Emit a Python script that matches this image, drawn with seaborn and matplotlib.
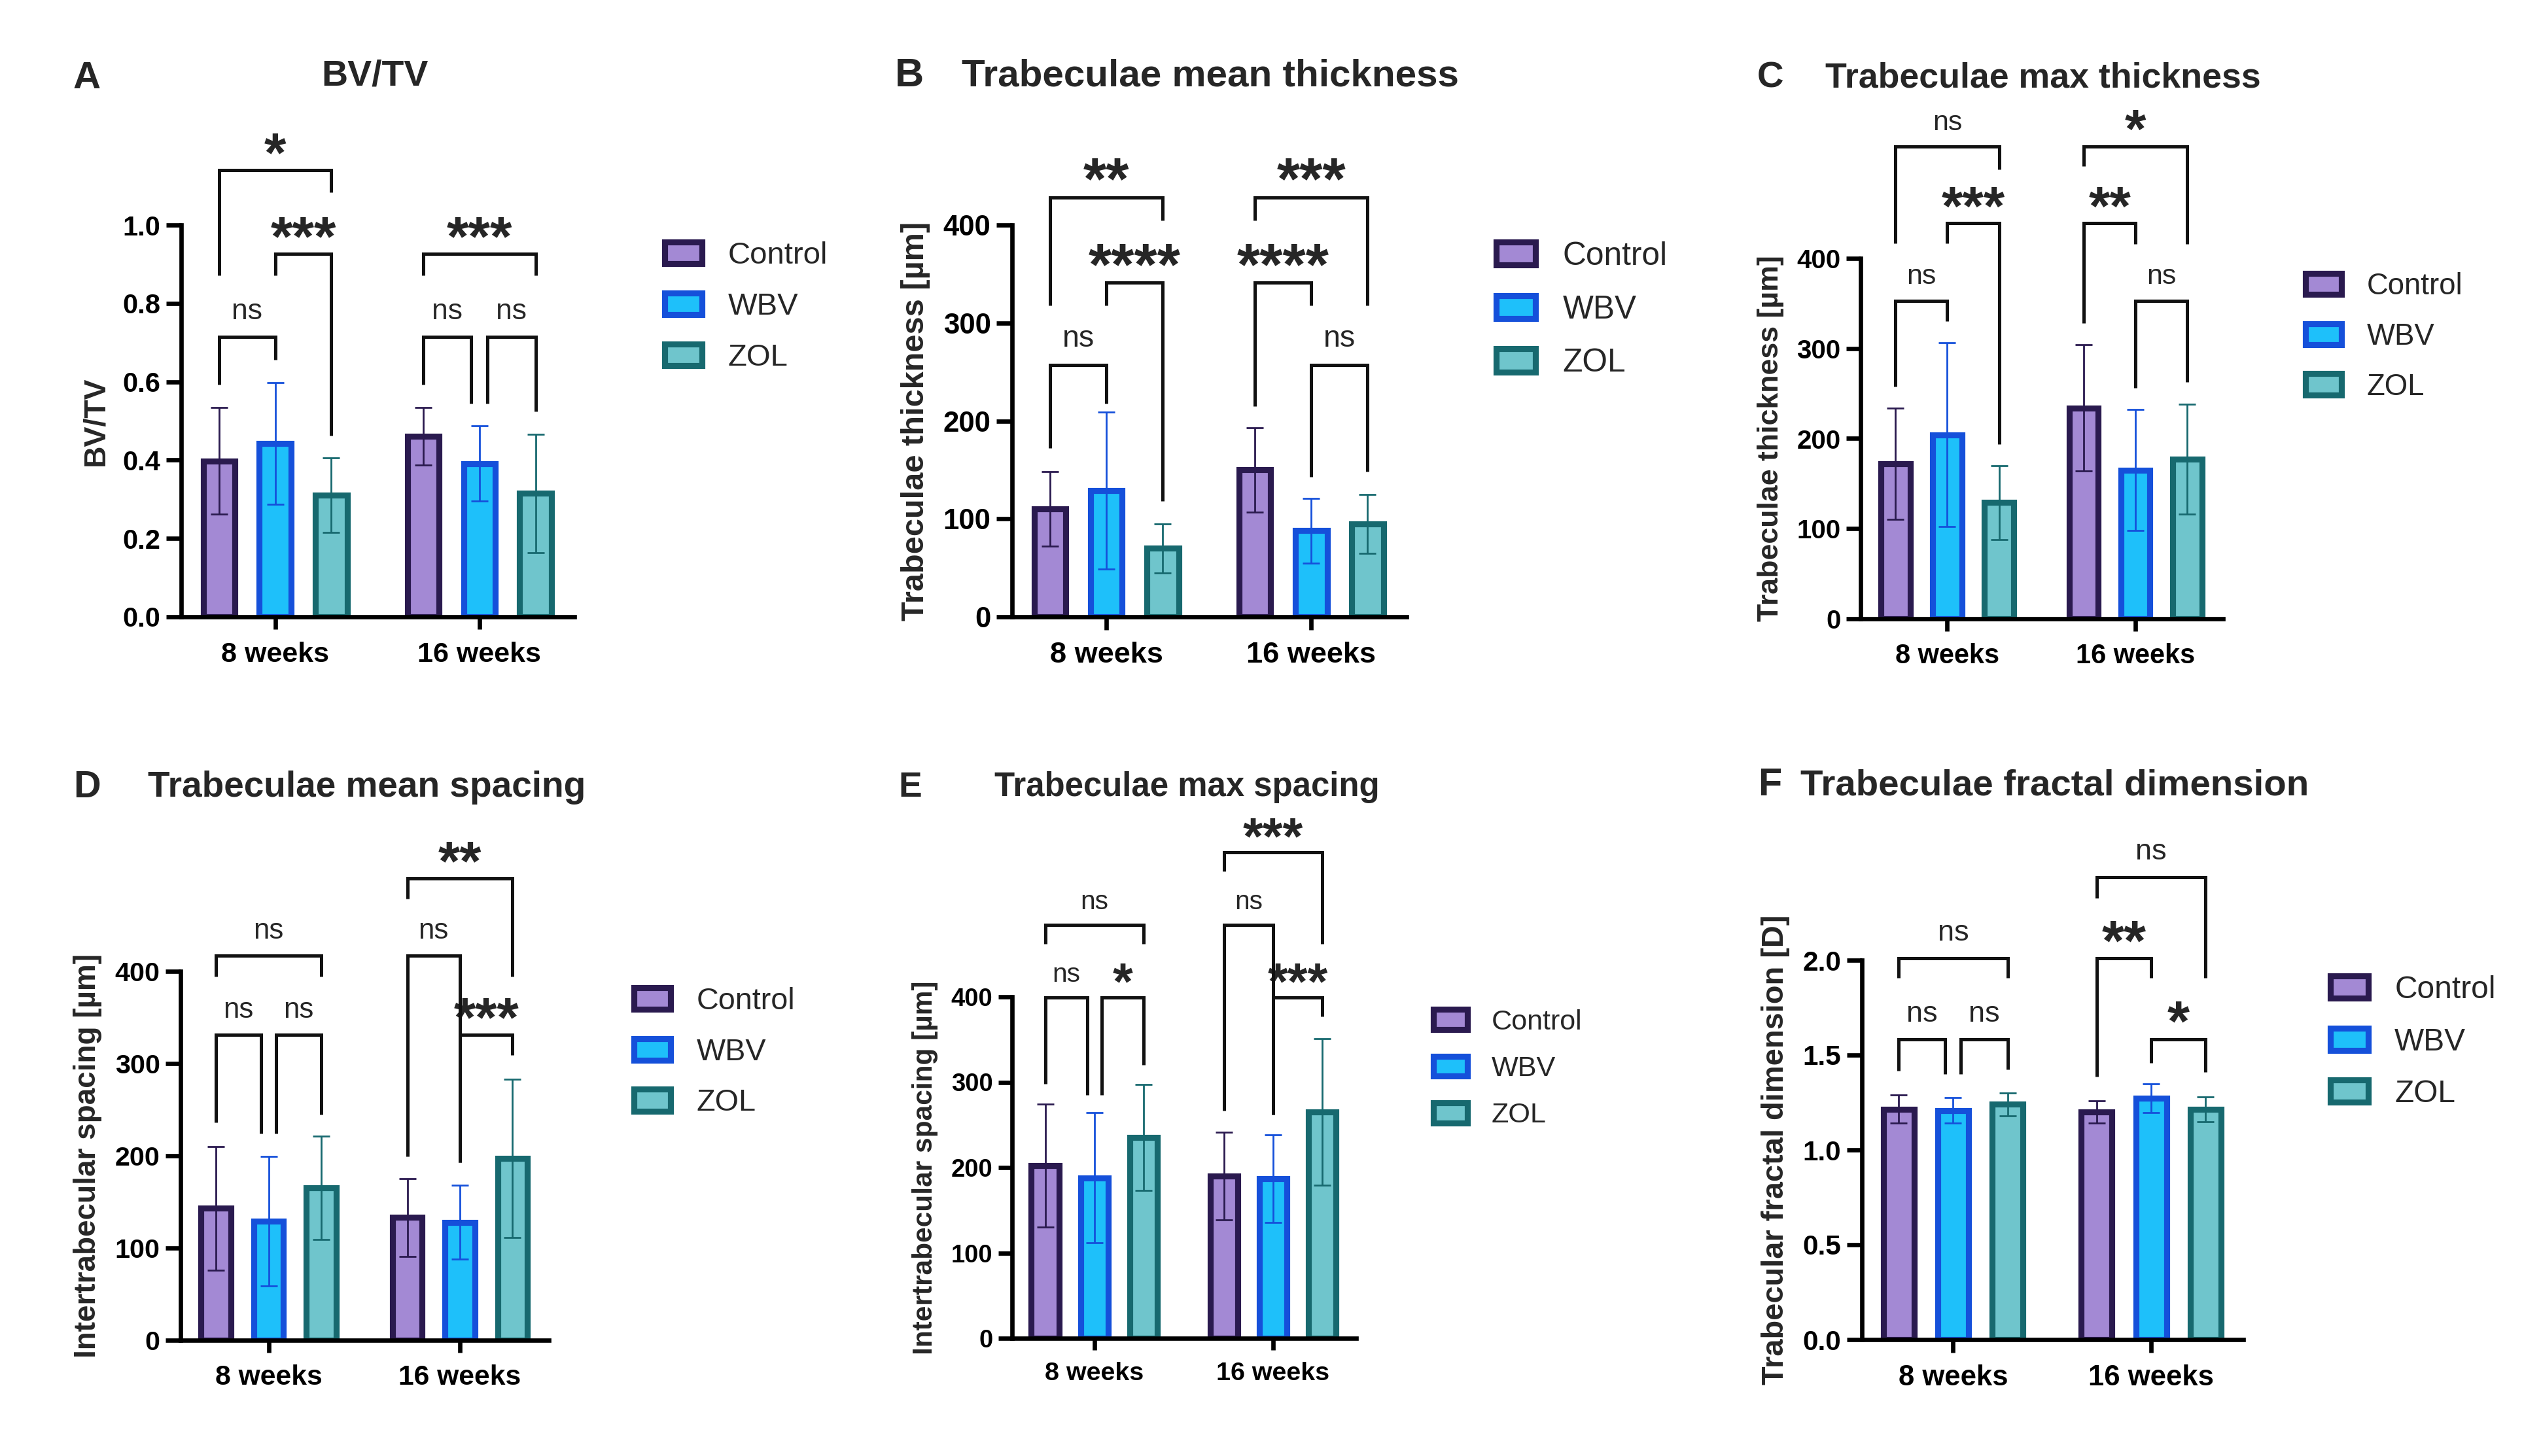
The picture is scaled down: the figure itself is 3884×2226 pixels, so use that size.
import matplotlib
matplotlib.use("Agg")
import matplotlib.pyplot as plt
from matplotlib.patches import Patch
import numpy as np
import pandas as pd
import seaborn as sns

# ---- data (order of each list: 8 weeks C/WBV/ZOL, 16 weeks C/WBV/ZOL) ----
groups = ["8 weeks", "16 weeks"]
treatments = ["Control", "WBV", "ZOL"]

bvtv_mean = [0.398, 0.442, 0.310, 0.461, 0.391, 0.315]
bvtv_sd = [0.136, 0.155, 0.095, 0.073, 0.096, 0.151]

tb_mean_thick_mean = [110, 129, 70, 150, 88, 95]
tb_mean_thick_sd = [38, 80, 25, 43, 33, 30]

tb_max_thick_mean = [172, 204, 129, 234, 165, 177]
tb_max_thick_sd = [62, 102, 41, 70, 67, 61]

tb_mean_space_mean = [143, 129, 165, 133, 128, 197]
tb_mean_space_sd = [67, 70, 56, 42, 40, 86]

tb_max_space_mean = [202, 188, 235, 190, 187, 265]
tb_max_space_sd = [72, 76, 62, 51, 51, 86]

fractal_mean = [1.215, 1.208, 1.240, 1.200, 1.272, 1.214]
fractal_sd = [0.074, 0.068, 0.060, 0.059, 0.075, 0.065]

# significance brackets: (group, bar i, bar j, level, leg end i, leg end j, label)
bvtv_brackets = [
    (0, 0, 2, 1.141, 0.871, 1.083, "*"),
    (0, 1, 2, 0.926, 0.871, 0.463, "***"),
    (0, 0, 1, 0.715, 0.593, 0.656, "ns"),
    (1, 0, 2, 0.926, 0.871, 0.871, "***"),
    (1, 0, 1, 0.715, 0.593, 0.545, "ns"),
    (1, 1, 2, 0.715, 0.545, 0.525, "ns"),
]
tb_mean_thick_brackets = [
    (0, 0, 2, 428, 318, 405, "**"),
    (0, 1, 2, 341, 318, 118, "****"),
    (0, 0, 1, 257, 172, 218, "ns"),
    (1, 0, 2, 428, 405, 318, "***"),
    (1, 0, 1, 341, 215, 318, "****"),
    (1, 1, 2, 257, 143, 148, "ns"),
]
tb_max_thick_brackets = [
    (0, 0, 2, 524, 417, 499, "ns"),
    (0, 1, 2, 439, 417, 194, "***"),
    (0, 0, 1, 353, 258, 330, "ns"),
    (1, 0, 2, 524, 502, 416, "*"),
    (1, 0, 1, 439, 328, 416, "**"),
    (1, 1, 2, 353, 256, 263, "ns"),
]
tb_mean_space_brackets = [
    (0, 0, 2, 417, 394, 394, "ns"),
    (0, 0, 1, 331, 236, 224, "ns"),
    (0, 1, 2, 331, 224, 245, "ns"),
    (1, 0, 2, 501, 479, 394, "**"),
    (1, 0, 1, 417, 199, 193, "ns"),
    (1, 1, 2, 331, 193, 309, "***"),
]
tb_max_space_brackets = [
    (0, 0, 2, 484, 462, 462, "ns"),
    (0, 0, 1, 399, 298, 285, "ns"),
    (0, 1, 2, 399, 285, 320, "*"),
    (1, 0, 2, 569, 547, 462, "***"),
    (1, 0, 1, 484, 267, 262, "ns"),
    (1, 1, 2, 399, 262, 377, "***"),
]
fractal_brackets = [
    (0, 0, 2, 2.010, 1.906, 1.906, "ns"),
    (0, 0, 1, 1.584, 1.416, 1.399, "ns"),
    (0, 1, 2, 1.584, 1.399, 1.423, "ns"),
    (1, 0, 2, 2.438, 2.327, 1.906, "ns"),
    (1, 0, 1, 2.010, 1.386, 1.906, "**"),
    (1, 1, 2, 1.584, 1.460, 1.411, "*"),
]

fills = ["#A389D4", "#1EC0FA", "#6FC5CC"]
edges = ["#2A1A4F", "#1550DA", "#17696F"]

# ---- layout (pixels of the 3884 x 2226 canvas) ----
W, H = 3884, 2226
panels = [
    dict(letter="A", title="BV/TV", ylabel="BV/TV", mean=bvtv_mean, sd=bvtv_sd,
         br=bvtv_brackets, ymax=1.0, ystep=0.2, fmt="{:.1f}", s=1.0,
         box=(277, 344, 878, 943), let=(133, 120), tit=(573, 117, "center"),
         leg=(1016, 369)),
    dict(letter="B", title="Trabeculae mean thickness", ylabel="Trabeculae thickness [µm]",
         mean=tb_mean_thick_mean, sd=tb_mean_thick_sd, br=tb_mean_thick_brackets,
         ymax=400, ystep=100, fmt="{:.0f}", s=1.05,
         box=(1547, 344, 2150, 943), let=(1390, 117), tit=(1470, 117, "left"),
         leg=(2287, 369)),
    dict(letter="C", title="Trabeculae max thickness", ylabel="Trabeculae thickness [µm]",
         mean=tb_max_thick_mean, sd=tb_max_thick_sd, br=tb_max_thick_brackets,
         ymax=400, ystep=100, fmt="{:.0f}", s=0.965,
         box=(2844, 395, 3398, 946), let=(2706, 120), tit=(2790, 120, "left"),
         leg=(3524, 416)),
    dict(letter="D", title="Trabeculae mean spacing", ylabel="Intertrabecular spacing [µm]",
         mean=tb_mean_space_mean, sd=tb_mean_space_sd, br=tb_mean_space_brackets,
         ymax=400, ystep=100, fmt="{:.0f}", s=0.99,
         box=(276, 1485, 839, 2049), let=(133, 1204), tit=(226, 1204, "left"),
         leg=(969, 1509)),
    dict(letter="E", title="Trabeculae max spacing", ylabel="Intertrabecular spacing [µm]",
         mean=tb_max_space_mean, sd=tb_max_space_sd, br=tb_max_space_brackets,
         ymax=400, ystep=100, fmt="{:.0f}", s=0.915,
         box=(1547, 1524, 2073, 2046), let=(1391, 1204), tit=(1520, 1204, "left"),
         leg=(2191, 1543)),
    dict(letter="F", title="Trabeculae fractal dimension", ylabel="Trabecular fractal dimension [D]",
         mean=fractal_mean, sd=fractal_sd, br=fractal_brackets,
         ymax=2.0, ystep=0.5, fmt="{:.1f}", s=1.015,
         box=(2846, 1468, 3429, 2048), let=(2706, 1201), tit=(2752, 1201, "left"),
         leg=(3562, 1491)),
]

sns.set_style("ticks")
plt.rcParams["font.family"] = ["Liberation Sans", "DejaVu Sans"]
plt.rcParams["axes.linewidth"] = 2.4

fig = plt.figure(figsize=(W / 200, H / 200), dpi=200)


def draw_panel(p):
    s = p["s"]
    l, t, r, b = p["box"]
    ax = fig.add_axes([l / W, 1 - b / H, (r - l) / W, (b - t) / H])

    df = pd.DataFrame({
        "group": np.repeat(groups, len(treatments)),
        "treatment": treatments * len(groups),
        "value": p["mean"],
        "sd": p["sd"],
    })
    sns.barplot(data=df, x="group", y="value", hue="treatment", order=groups,
                hue_order=treatments, palette=fills, saturation=1, width=0.825,
                gap=0.436, errorbar=None, linewidth=3.3, legend=False, ax=ax)

    centers = {}
    for k, (cont, ec) in enumerate(zip(ax.containers, edges)):
        for g, bar in enumerate(cont.patches):
            bar.set_edgecolor(ec)
            bar.set_linewidth(3.3)
            cx = bar.get_x() + bar.get_width() / 2
            centers[(g, k)] = cx
            row = df[(df.group == groups[g]) & (df.treatment == treatments[k])].iloc[0]
            ax.errorbar(cx, row.value, yerr=row.sd, fmt="none", ecolor=ec,
                        elinewidth=1.0, capsize=4.6, capthick=1.0, zorder=3)

    # significance brackets
    inset = 0.04
    for br in p["br"]:
        g, i, j, lvl, ei, ej, lab = br
        x1, x2 = centers[(g, i)], centers[(g, j)]
        for o in p["br"]:
            if o is br or o[0] != g or abs(o[3] - lvl) > 1e-9:
                continue
            if o[1] == j:
                x2 -= inset
            if o[2] == i:
                x1 += inset
        ax.plot([x1, x1, x2, x2], [ei, lvl, lvl, ej], color="#111111", lw=1.8,
                clip_on=False, solid_joinstyle="miter", solid_capstyle="butt", zorder=4)
        if lab == "ns":
            ax.annotate(lab, xy=((x1 + x2) / 2, lvl), xytext=(0, 9.5 * s),
                        textcoords="offset points", ha="center", va="baseline",
                        fontsize=16 * s, annotation_clip=False)
        else:
            ax.annotate(lab, xy=((x1 + x2) / 2, lvl), xytext=(0, -0.8 * s),
                        textcoords="offset points", ha="center", va="baseline",
                        fontsize=31 * s, fontweight="bold", annotation_clip=False)

    ax.set_xlim(-0.46, 1.465)
    ax.set_ylim(0, p["ymax"])
    yt = np.arange(0, p["ymax"] + p["ystep"] / 2, p["ystep"])
    ax.set_yticks(yt)
    ax.set_yticklabels([p["fmt"].format(v) for v in yt], fontweight="bold", fontsize=15 * s)
    ax.set_xticks([0, 1])
    ax.set_xticklabels(groups, fontweight="bold", fontsize=15.5 * s)
    ax.tick_params(axis="y", length=8.3 * s, width=2.4, pad=3, colors="black")
    ax.tick_params(axis="x", length=7 * s, width=2.4, pad=6.5, colors="black")
    ax.set_xlabel("")
    ax.set_ylabel(p["ylabel"], fontweight="bold", fontsize=16.7 * s, labelpad=7)
    sns.despine(ax=ax)
    for sp in ["left", "bottom"]:
        ax.spines[sp].set_color("black")
        ax.spines[sp].set_linewidth(2.4)

    handles = [Patch(facecolor=f, edgecolor=e, linewidth=3.3) for f, e in zip(fills, edges)]
    lx, ly = p["leg"]
    ax.legend(handles, treatments, loc="upper left", bbox_to_anchor=(lx / W, 1 - ly / H),
              bbox_transform=fig.transFigure, frameon=False, fontsize=17 * s,
              handlelength=1.2, handleheight=0.72, handletextpad=0.85,
              labelspacing=0.72, borderpad=0, borderaxespad=0)

    fig.text(p["let"][0] / W, 1 - p["let"][1] / H, p["letter"], fontsize=21 * s,
             fontweight="bold", ha="center", va="center")
    tx, ty, ha = p["tit"]
    fig.text(tx / W, 1 - ty / H, p["title"], fontsize=20 * s, fontweight="bold",
             ha=ha, va="center")


for p in panels:
    draw_panel(p)

fig.savefig("out.png", dpi=200, facecolor="white")
